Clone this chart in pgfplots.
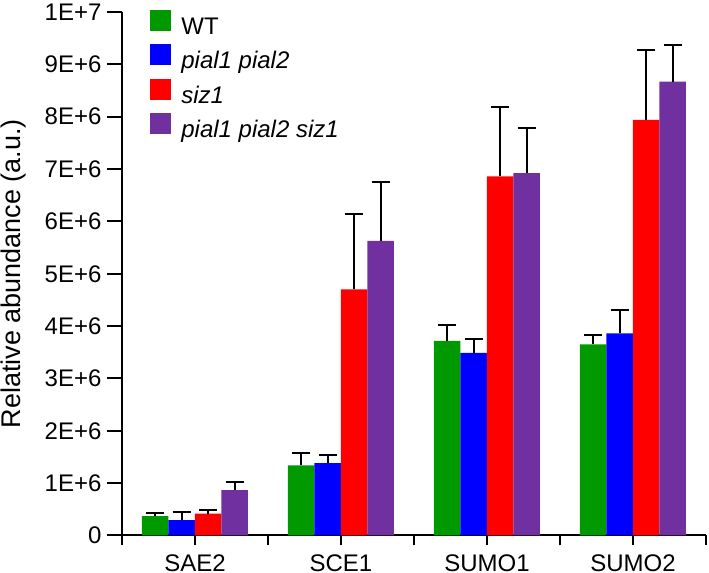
\documentclass[border=0pt]{standalone}
\usepackage{pgfplots}
\pgfplotsset{compat=1.18}
\usepackage{fontspec}
\setmainfont{Liberation Sans}
\definecolor{cwt}{RGB}{0,153,0}
\definecolor{cpp}{RGB}{0,0,255}
\definecolor{csiz}{RGB}{255,0,0}
\definecolor{ctri}{RGB}{112,48,160}
\pgfplotsset{
  sq/.style={legend image code/.code={\fill[#1] (0pt,-1.1pt) rectangle (10.5pt,9.4pt);}},
  eb/.style={error bars/.cd, y dir=plus, y explicit,
    error bar style={line width=1pt, black},
    error mark=|,
    error mark options={line width=1pt, mark size=4.5pt, black}},
}
\begin{document}
\begin{tikzpicture}
\begin{axis}[
  at={(0,0)}, anchor=south west,
  scale only axis, width=292pt, height=261.75pt,
  xmin=0, xmax=4, ymin=0, ymax=10000000,
  axis x line*=bottom, axis y line*=left,
  axis line style={line width=1pt},
  tick align=outside,
  tick style={line width=1pt, black},
  major tick length=7.5pt,
  ybar=0pt, bar width=13.25pt,
  xtick={0,1,2,3,4}, xticklabels={,,,,},
  xtick style={/pgfplots/major tick length=5pt},
  extra x ticks={0.5,1.5,2.5,3.5},
  extra x tick labels={SAE2,SCE1,SUMO1,SUMO2},
  extra x tick style={major tick length=0pt, xticklabel style={inner sep=0pt, anchor=north, yshift=-9.2pt}},
  ytick={0,1000000,2000000,3000000,4000000,5000000,6000000,7000000,8000000,9000000,10000000},
  yticklabels={0,1E+6,2E+6,3E+6,4E+6,5E+6,6E+6,7E+6,8E+6,9E+6,1E+7},
  scaled y ticks=false,
  yticklabel style={inner sep=2.6pt},
  tick label style={font=\fontsize{12}{14}\selectfont},
  ylabel={Relative abundance (a.u.)},
  ylabel style={at={(axis description cs:-0.1735,0.5)}, anchor=base, font=\fontsize{13.5}{15}\selectfont},
  legend cell align=left,
  legend style={at={(axis description cs:0,1)}, anchor=north west, xshift=14pt, yshift=1pt,
    draw=none, fill=none, inner sep=0pt, row sep=2.2pt, column sep=5pt,
    nodes={inner sep=0pt, text height=8.3pt, text depth=2.6pt, font=\fontsize{12}{14}\selectfont}},
]
\addplot[fill=cwt, draw=none, sq=cwt, eb] coordinates {
  (0.5,370000) +- (0,65000)
  (1.5,1340000) +- (0,240000)
  (2.5,3720000) +- (0,300000)
  (3.5,3650000) +- (0,180000)
};
\addlegendentry{WT}
\addplot[fill=cpp, draw=none, sq=cpp, eb] coordinates {
  (0.5,295000) +- (0,155000)
  (1.5,1380000) +- (0,160000)
  (2.5,3490000) +- (0,260000)
  (3.5,3860000) +- (0,440000)
};
\addlegendentry{\textit{pial1 pial2}}
\addplot[fill=csiz, draw=none, sq=csiz, eb] coordinates {
  (0.5,420000) +- (0,65000)
  (1.5,4700000) +- (0,1440000)
  (2.5,6860000) +- (0,1320000)
  (3.5,7940000) +- (0,1330000)
};
\addlegendentry{\textit{siz1}}
\addplot[fill=ctri, draw=none, sq=ctri, eb] coordinates {
  (0.5,866000) +- (0,154000)
  (1.5,5630000) +- (0,1130000)
  (2.5,6920000) +- (0,870000)
  (3.5,8670000) +- (0,700000)
};
\addlegendentry{\textit{pial1 pial2 siz1}}
\end{axis}
\pgfresetboundingbox
\path[use as bounding box] (-61pt,-18.75pt) rectangle (293.5pt,267.75pt);
\end{tikzpicture}
\end{document}
